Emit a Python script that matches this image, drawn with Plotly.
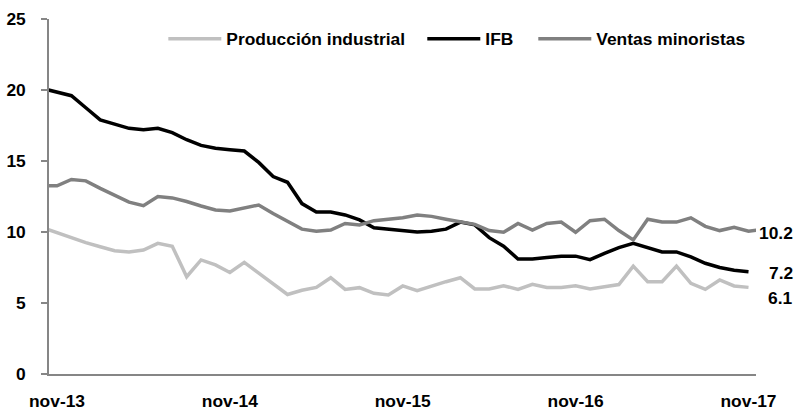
import pandas as pd
import plotly.graph_objects as go

# Spanish month abbreviations for the category labels
mes_abbr = ["ene", "feb", "mar", "abr", "may", "jun", "jul", "ago", "sep", "oct", "nov", "dic"]
periods = pd.period_range("2013-10", "2017-12", freq="M")
months = [f"{mes_abbr[p.month - 1]}-{str(p.year)[2:]}" for p in periods]

tick_labels = ["nov-13", "nov-14", "nov-15", "nov-16", "nov-17"]

# oct-13 ... nov-17
produccion_industrial = [10.3, 9.95, 9.55, 9.25, 8.96, 8.68, 8.6, 8.73, 9.2, 9.0, 6.85, 8.03, 7.68,
                         7.15, 7.86, 7.1, 6.34, 5.6, 5.9, 6.1, 6.78, 5.96, 6.08, 5.68, 5.56, 6.2,
                         5.87, 6.2, 6.5, 6.78, 5.99, 5.99, 6.22, 5.96, 6.31, 6.1, 6.1, 6.22, 5.99,
                         6.15, 6.3, 7.6, 6.5, 6.5, 7.6, 6.38, 5.96, 6.62, 6.2, 6.1]
# oct-13 ... nov-17
ifb = [20.1, 19.85, 19.6, 18.75, 17.9, 17.6, 17.3, 17.2, 17.3, 17.0, 16.5, 16.1, 15.9, 15.8, 15.7,
       14.9, 13.9, 13.5, 12.0, 11.4, 11.4, 11.2, 10.85, 10.3, 10.2, 10.15, 10.0, 10.05, 10.2, 10.7,
       10.5, 9.6, 9.0, 8.1, 8.1, 8.2, 8.3, 8.3, 8.05, 8.5, 8.9, 9.2, 8.9, 8.6, 8.6, 8.25, 7.8, 7.5,
       7.3, 7.2]
# oct-13 ... dic-17
ventas_minoristas = [13.25, 13.25, 13.7, 13.6, 13.07, 12.56, 12.1, 11.85, 12.5, 12.4, 12.15, 11.83,
                     11.55, 11.48, 11.66, 11.9, 11.3, 10.77, 10.2, 10.05, 10.14, 10.6, 10.5, 10.8,
                     10.9, 11.0, 11.2, 11.1, 10.9, 10.73, 10.54, 10.1, 9.98, 10.6, 10.14, 10.6,
                     10.7, 9.98, 10.8, 10.9, 10.1, 9.44, 10.9, 10.7, 10.7, 11.0, 10.4, 10.1, 10.33,
                     10.05, 10.2]

FONT = "Liberation Sans, Arial, sans-serif"
FS = 17.4

# name, values, colour, label y-shift (px), legend id, legend x (paper)
series = [
    ("Producción industrial", produccion_industrial, "#c0c0c0", -11, "legend", 0.1617),
    ("IFB", ifb, "#000000", -1.5, "legend2", 0.528),
    ("Ventas minoristas", ventas_minoristas, "#808080", -4, "legend3", 0.685),
]

fig = go.Figure()
annotations = []
legends = {}
for name, vals, color, yshift, leg, legx in series:
    fig.add_trace(go.Scatter(
        x=months[:len(vals)], y=vals, mode="lines", name=name, legend=leg,
        line=dict(color=color, width=3.5), hoverinfo="skip",
    ))
    annotations.append(dict(
        xref="paper", x=1, y=vals[-1], yref="y", text=f"{vals[-1]:.1f}",
        showarrow=False, xanchor="right", xshift=39, yshift=yshift,
        font=dict(family=FONT, size=FS, color="#000000", weight="bold"),
    ))
    legends[leg] = dict(orientation="h", x=legx, xanchor="left", y=0.944, yanchor="middle",
                        bgcolor="rgba(0,0,0,0)", itemwidth=53,
                        font=dict(family=FONT, size=FS, color="#000000", weight="bold"))

nov13 = months.index("nov-13")
fig.update_layout(
    width=797, height=410,
    margin=dict(l=49, r=41, t=19, b=36, autoexpand=False),
    paper_bgcolor="white", plot_bgcolor="white",
    font=dict(family=FONT, size=FS, color="#000000", weight="bold"),
    showlegend=True,
    annotations=annotations,
    **legends,
)
fig.update_xaxes(
    type="category", categoryorder="array", categoryarray=months,
    range=[nov13 - 0.556, nov13 + 48.52], automargin=False,
    tickmode="array", tickvals=tick_labels, ticktext=tick_labels,
    showline=True, linecolor="#868686", linewidth=1.5,
    ticks="", showgrid=False, zeroline=False, ticklabelstandoff=10,
)
fig.update_yaxes(
    range=[0, 25], tickmode="array", tickvals=[0, 5, 10, 15, 20, 25], automargin=False,
    showline=True, linecolor="#868686", linewidth=1.5,
    ticks="outside", ticklen=6, tickcolor="#868686", tickwidth=1.5,
    showgrid=False, zeroline=False, ticklabelstandoff=12,
)

fig.write_html(
    "out.html",
    config={"displayModeBar": False},
    post_script="document.body.style.margin='0';document.body.style.overflow='hidden';",
)
